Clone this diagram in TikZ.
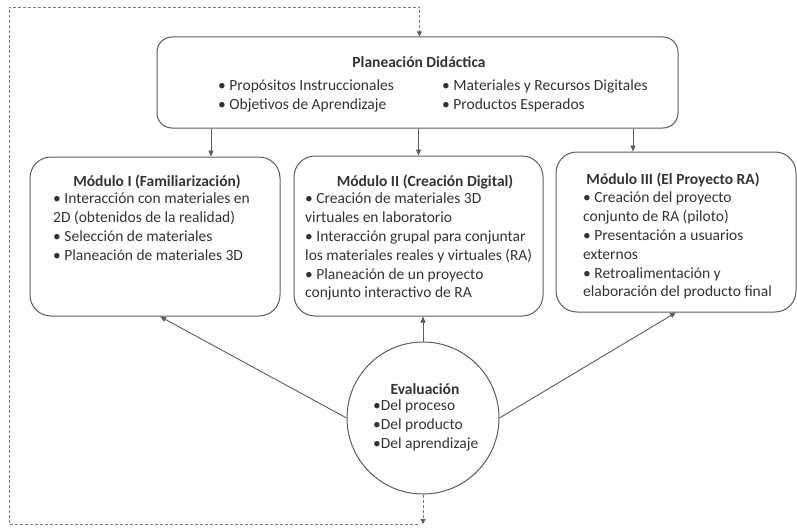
\documentclass[tikz,border=0pt]{standalone}
\usepackage{fontspec}
\setmainfont{Carlito}
\usetikzlibrary{arrows.meta, positioning}
\usepackage{xcolor}
\definecolor{txtgray}{HTML}{333333}
\definecolor{linegray}{HTML}{5C5C5C}
\definecolor{dashgray}{HTML}{7A7A7A}

\tikzset{
  planbox/.style={draw=linegray, line width=1pt, rounded corners=15pt},
  modbox/.style={draw=linegray, line width=1pt, rounded corners=21pt},
  evalcircle/.style={draw=linegray, line width=1pt, circle, inner sep=0pt},
  titletxt/.style={font=\fontsize{15.5}{18.8}\selectfont\bfseries, text=txtgray, inner sep=0pt},
  bodytxt/.style={anchor=north west, align=left, inner sep=0pt,
    font=\fontsize{15.5}{18.8}\selectfont, text=txtgray},
  arr/.style={draw=linegray, line width=0.9pt, -{Triangle[length=6pt,width=5pt]}},
  looparr/.style={draw=dashgray, line width=0.8pt, dash pattern=on 3pt off 2pt,
    -{Triangle[length=5pt,width=5pt,color=linegray]}}
}

\begin{document}
\begin{tikzpicture}[x=1pt, y=-1pt]
  \useasboundingbox (0,0) rectangle (797,527);

  % planeacion
  \node[planbox, minimum width=521pt, minimum height=91pt] (plan) at (417.5,82.5) {};
  \node[titletxt] (plantitle) at (419,62) {Planeación Didáctica};
  \node[bodytxt] (planleft) at (218,80) {• Propósitos Instruccionales\\• Objetivos de Aprendizaje};
  \node[bodytxt] (planright) at (442,80) {• Materiales y Recursos Digitales\\• Productos Esperados};

  % modulos
  \node[modbox, minimum width=250pt, minimum height=159pt] (modI) at (155,236.5) {};
  \node[titletxt] (modItitle) at (157,182) {Módulo I (Familiarización)};
  \node[bodytxt] (modIbody) at (53,193) {• Interacción con materiales en\\2D (obtenidos de la realidad)\\• Selección de materiales\\• Planeación de materiales 3D};

  \node[modbox, minimum width=249pt, minimum height=160pt] (modII) at (418.5,236) {};
  \node[titletxt] (modIItitle) at (425,182) {Módulo II (Creación Digital)};
  \node[bodytxt] (modIIbody) at (305,193) {• Creación de materiales 3D\\virtuales en laboratorio\\• Interacción grupal para conjuntar\\los materiales reales y virtuales (RA)\\• Planeación de un proyecto\\conjunto interactivo de RA};

  \node[modbox, minimum width=240pt, minimum height=160pt] (modIII) at (676,232) {};
  \node[titletxt] (modIIItitle) at (673,180) {Módulo III (El Proyecto RA)};
  \node[bodytxt] (modIIIbody) at (583,192) {• Creación del proyecto\\conjunto de RA (piloto)\\• Presentación a usuarios\\externos\\• Retroalimentación y\\elaboración del producto final};

  % evaluacion
  \node[evalcircle, minimum size=152pt] (eval) at (423,418) {};
  \node[titletxt] (evaltitle) at (425,389) {Evaluación};
  \node[bodytxt] (evalbody) at (373,400) {•Del proceso\\•Del producto\\•Del aprendizaje};

  % flechas
  \coordinate (xa) at (211,0);
  \coordinate (xb) at (633,0);
  \draw[arr] (plan.south -| xa) -- (modI.north -| xa);
  \draw[arr] (plan.south -| modII.north) -- (modII.north);
  \draw[arr] (plan.south -| xb) -- (modIII.north -| xb);

  \draw[arr] (eval.west) -- ([xshift=5pt]modI.south);
  \draw[arr] (eval.north) -- (eval.north |- modII.south);
  \draw[arr] (eval.east) -- (modIII.south);

  % retroalimentacion
  \coordinate (loopbl) at (9,524);
  \coordinate (looptl) at (9,7);
  \draw[looparr] (eval.south) -- (eval.south |- loopbl);
  \draw[looparr] ([xshift=-5pt]eval.south |- loopbl) -- (loopbl) -- (looptl) -- ([xshift=2pt]looptl -| plan.north) -- ([xshift=2pt]plan.north);
\end{tikzpicture}
\end{document}
